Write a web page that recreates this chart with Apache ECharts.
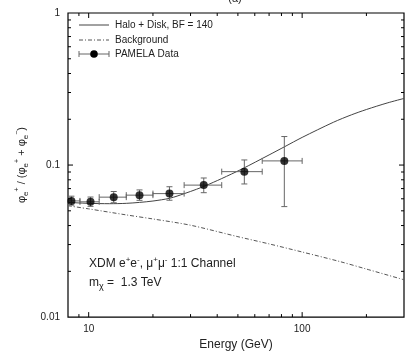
<!DOCTYPE html>
<html>
<head>
<meta charset="utf-8">
<script src="https://cdn.jsdelivr.net/npm/echarts@6/dist/echarts.min.js"></script>
<style>
html, body { margin: 0; padding: 0; background: #fff; }
#main { width: 415px; height: 356px; }
</style>
</head>
<body>
<div id="main"></div>
<script>
// PAMELA positron fraction points (bin mean energy, value, bin edges, error bar ends)
var pamelaE = [8.3, 10.2, 13.1, 17.3, 23.9, 34.6, 53.6, 82.5];
var pamelaFrac = [0.0581, 0.0573, 0.0615, 0.0634, 0.0649, 0.0738, 0.0905, 0.1065];
var pamelaELo = [7.4, 9.1, 11.2, 15, 20, 28, 42, 65];
var pamelaEHi = [9.1, 11.2, 15, 20, 28, 42, 65, 100];
var pamelaFracLo = [0.0545, 0.0535, 0.0565, 0.0586, 0.0587, 0.0658, 0.0751, 0.0533];
var pamelaFracHi = [0.0624, 0.0616, 0.0670, 0.0686, 0.0720, 0.0822, 0.1080, 0.1540];

// Halo + Disk model curve
var signalE = [8, 10, 12.5, 15, 17.3, 20, 24, 28, 32, 35, 42, 52, 70, 83, 100, 140, 170, 200, 250, 300];
var signalFrac = [0.0568, 0.0560, 0.0557, 0.0560, 0.0568, 0.0580, 0.0605, 0.0648, 0.0693, 0.0728,
                  0.0815, 0.0939, 0.1166, 0.1323, 0.1520, 0.1911, 0.2138, 0.2319, 0.2559, 0.2742];

// background curve
var bgE = [8, 10, 15, 20, 30, 50, 70, 100, 150, 200, 300];
var bgFrac = [0.0540, 0.0515, 0.0470, 0.0442, 0.0402, 0.0338, 0.0303, 0.0268, 0.0232, 0.0207, 0.0176];

// tick values
var xMajorTicks = [10, 100];
var xMinorTicks = [9, 20, 30, 40, 50, 60, 70, 80, 90, 200];
var yMajorTicks = [0.1];
var yMinorTicks = [0.02, 0.03, 0.04, 0.05, 0.06, 0.07, 0.08, 0.09, 0.2, 0.3, 0.4, 0.5, 0.6, 0.7, 0.8, 0.9];

var xMin = 8, xMax = 300, yMin = 0.01, yMax = 1;
var FONT = 'Liberation Sans, Arial, Helvetica, sans-serif';

var myChart = echarts.init(document.getElementById('main'));

function zip(a, b) {
    return a.map(function (v, i) { return [v, b[i]]; });
}

function isDecade(v) {
    var l = Math.log(v) / Math.LN10;
    return Math.abs(l - Math.round(l)) < 1e-6;
}

var errData = pamelaE.map(function (e, i) {
    return [e, pamelaFrac[i], pamelaELo[i], pamelaEHi[i], pamelaFracLo[i], pamelaFracHi[i]];
});

var xTickData = xMajorTicks.map(function (v) { return [v, 0.05, 1]; })
    .concat(xMinorTicks.map(function (v) { return [v, 0.05, 0]; }));
var yTickData = yMajorTicks.map(function (v) { return [20, v, 1]; })
    .concat(yMinorTicks.map(function (v) { return [20, v, 0]; }));

var tickStyle = { stroke: '#000', lineWidth: 1 };

function renderErr(params, api) {
    var x = api.value(0), y = api.value(1);
    var p = api.coord([x, y]);
    var l = api.coord([api.value(2), y]);
    var r = api.coord([api.value(3), y]);
    var lo = api.coord([x, api.value(4)]);
    var hi = api.coord([x, api.value(5)]);
    var c = 3;
    var st = { stroke: '#666', lineWidth: 1 };
    return {
        type: 'group',
        children: [
            { type: 'line', shape: { x1: l[0], y1: p[1], x2: r[0], y2: p[1] }, style: st },
            { type: 'line', shape: { x1: l[0], y1: p[1] - c, x2: l[0], y2: p[1] + c }, style: st },
            { type: 'line', shape: { x1: r[0], y1: p[1] - c, x2: r[0], y2: p[1] + c }, style: st },
            { type: 'line', shape: { x1: p[0], y1: lo[1], x2: p[0], y2: hi[1] }, style: st },
            { type: 'line', shape: { x1: p[0] - c, y1: lo[1], x2: p[0] + c, y2: lo[1] }, style: st },
            { type: 'line', shape: { x1: p[0] - c, y1: hi[1], x2: p[0] + c, y2: hi[1] }, style: st }
        ]
    };
}

function renderXTick(params, api) {
    var v = api.value(0);
    var len = api.value(2) ? 5 : 3;
    var b = api.coord([v, yMin]), t = api.coord([v, yMax]);
    return {
        type: 'group',
        children: [
            { type: 'line', shape: { x1: b[0], y1: b[1], x2: b[0], y2: b[1] - len }, style: tickStyle },
            { type: 'line', shape: { x1: t[0], y1: t[1], x2: t[0], y2: t[1] + len }, style: tickStyle }
        ]
    };
}

function renderYTick(params, api) {
    var v = api.value(1);
    var len = api.value(2) ? 5 : 3;
    var l = api.coord([xMin, v]), r = api.coord([xMax, v]);
    return {
        type: 'group',
        children: [
            { type: 'line', shape: { x1: l[0], y1: l[1], x2: l[0] + len, y2: l[1] }, style: tickStyle },
            { type: 'line', shape: { x1: r[0], y1: r[1], x2: r[0] - len, y2: r[1] }, style: tickStyle }
        ]
    };
}

var option = {
    animation: false,
    backgroundColor: '#fff',
    textStyle: { fontFamily: FONT },
    grid: {
        left: 68, right: 11, top: 13, bottom: 32,
        show: true, borderColor: '#000', borderWidth: 1.2, backgroundColor: 'transparent'
    },
    xAxis: {
        type: 'log',
        logBase: 10,
        min: xMin,
        max: xMax,
        name: 'Energy (GeV)',
        nameLocation: 'middle',
        nameGap: 21,
        nameTextStyle: { fontSize: 12, color: '#222', fontFamily: FONT },
        axisLine: { show: false },
        axisTick: { show: false },
        splitLine: { show: false },
        axisLabel: {
            margin: 7,
            fontSize: 10,
            color: '#222',
            fontFamily: FONT,
            formatter: function (v) { return isDecade(v) ? String(Number(v.toPrecision(6))) : ''; }
        }
    },
    yAxis: {
        type: 'log',
        logBase: 10,
        min: yMin,
        max: yMax,
        name: '{t|φ}{sub|e}{sup|+}{t| / (φ}{sub|e}{sup|+}{t| + φ}{sub|e}{sup|−}{t|)}',
        nameLocation: 'middle',
        nameRotate: 90,
        nameGap: 36,
        nameTextStyle: {
            color: '#222',
            fontFamily: FONT,
            rich: {
                t: { fontSize: 11, lineHeight: 16, color: '#222', fontFamily: FONT },
                sub: { fontSize: 8, lineHeight: 9, verticalAlign: 'bottom', color: '#222', fontFamily: FONT },
                sup: { fontSize: 7, lineHeight: 7, verticalAlign: 'top', color: '#222', fontFamily: FONT }
            }
        },
        axisLine: { show: false },
        axisTick: { show: false },
        splitLine: { show: false },
        axisLabel: {
            margin: 8,
            fontSize: 10,
            color: '#222',
            fontFamily: FONT,
            formatter: function (v) { return isDecade(v) ? String(Number(v.toPrecision(6))) : ''; }
        }
    },
    graphic: [
        { type: 'text', x: 235, y: -1, style: { text: '(a)', fontSize: 11, fontFamily: FONT, fill: '#222', textAlign: 'center', align: 'center', textVerticalAlign: 'middle', verticalAlign: 'middle' } },
        // legend
        { type: 'line', shape: { x1: 79, y1: 25, x2: 109, y2: 25 }, style: { stroke: '#444', lineWidth: 1 } },
        { type: 'text', x: 115, y: 25, style: { text: 'Halo + Disk, BF = 140', fontSize: 10, fontFamily: FONT, fill: '#222', textVerticalAlign: 'middle', verticalAlign: 'middle' } },
        { type: 'line', shape: { x1: 79, y1: 40, x2: 109, y2: 40 }, style: { stroke: '#555', lineWidth: 1, lineDash: [4, 2, 1, 2] } },
        { type: 'text', x: 115, y: 40, style: { text: 'Background', fontSize: 10, fontFamily: FONT, fill: '#222', textVerticalAlign: 'middle', verticalAlign: 'middle' } },
        { type: 'line', shape: { x1: 79, y1: 54, x2: 109, y2: 54 }, style: { stroke: '#666', lineWidth: 1 } },
        { type: 'line', shape: { x1: 79, y1: 51, x2: 79, y2: 57 }, style: { stroke: '#666', lineWidth: 1 } },
        { type: 'line', shape: { x1: 109, y1: 51, x2: 109, y2: 57 }, style: { stroke: '#666', lineWidth: 1 } },
        { type: 'circle', shape: { cx: 94, cy: 54, r: 3.8 }, style: { fill: '#000' } },
        { type: 'text', x: 115, y: 54, style: { text: 'PAMELA Data', fontSize: 10, fontFamily: FONT, fill: '#222', textVerticalAlign: 'middle', verticalAlign: 'middle' } },
        // annotations
        {
            type: 'text', x: 89, y: 264,
            style: {
                text: '{t|XDM e}{sup|+}{t|e}{sup|-}{t|, μ}{sup|+}{t|μ}{sup|-}{t| 1:1 Channel}',
                textVerticalAlign: 'middle', verticalAlign: 'middle',
                rich: {
                    t: { fontSize: 12, lineHeight: 16, fill: '#222', fontFamily: FONT },
                    sup: { fontSize: 8, lineHeight: 9, verticalAlign: 'top', fill: '#222', fontFamily: FONT }
                }
            }
        },
        {
            type: 'text', x: 89, y: 283,
            style: {
                text: '{t|m}{sub|χ}{t| =  1.3 TeV}',
                textVerticalAlign: 'middle', verticalAlign: 'middle',
                rich: {
                    t: { fontSize: 12, lineHeight: 16, fill: '#222', fontFamily: FONT },
                    sub: { fontSize: 9, lineHeight: 10, verticalAlign: 'bottom', fill: '#222', fontFamily: FONT }
                }
            }
        }
    ],
    series: [
        {
            name: 'Halo + Disk, BF = 140',
            type: 'line',
            data: zip(signalE, signalFrac),
            smooth: 0.3,
            showSymbol: false,
            symbol: 'none',
            lineStyle: { color: '#444', width: 1 },
            z: 3
        },
        {
            name: 'Background',
            type: 'line',
            data: zip(bgE, bgFrac),
            smooth: 0.3,
            showSymbol: false,
            symbol: 'none',
            lineStyle: { color: '#555', width: 1, type: [4, 2, 1, 2] },
            z: 3
        },
        {
            name: 'PAMELA errors',
            type: 'custom',
            renderItem: renderErr,
            data: errData,
            clip: true,
            encode: { x: 0, y: 1 },
            z: 4
        },
        {
            name: 'PAMELA Data',
            type: 'scatter',
            data: zip(pamelaE, pamelaFrac),
            symbolSize: 8,
            itemStyle: { color: '#000' },
            z: 5
        },
        {
            type: 'custom',
            renderItem: renderXTick,
            data: xTickData,
            encode: { x: 0, y: 1 },
            silent: true,
            z: 6
        },
        {
            type: 'custom',
            renderItem: renderYTick,
            data: yTickData,
            encode: { x: 0, y: 1 },
            silent: true,
            z: 6
        }
    ]
};

myChart.setOption(option);
</script>
</body>
</html>
